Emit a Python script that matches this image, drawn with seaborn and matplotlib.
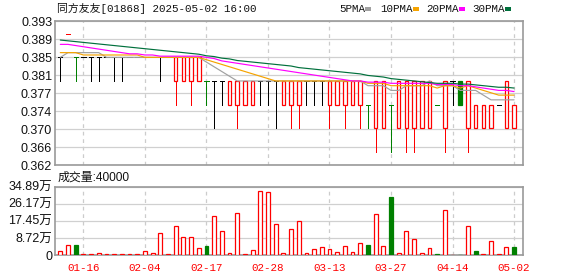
import numpy as np
import pandas as pd
import matplotlib
matplotlib.use("Agg")
import matplotlib.pyplot as plt
from matplotlib.patches import Rectangle
import seaborn as sns

# ---------------- data ----------------
title = "同方友友[01868] 2025-05-02 16:00"
vol_title = "成交量:40000"

# closes before the visible window (needed for the moving averages)
prev_closes = [0.395] + [0.390] * 9 + [0.390] * 9 + [0.385, 0.390, 0.385, 0.390,
                                                     0.385, 0.385, 0.385, 0.385, 0.385, 0.385]

opens = [0.385, 0.390, 0.385, 0.385, 0.385, 0.385, 0.385, 0.385, 0.385, 0.385,
         0.385, 0.385, 0.385, 0.385, 0.385, 0.380, 0.380, 0.380, 0.380, 0.380,
         0.380, 0.380, 0.375, 0.375, 0.375, 0.375, 0.380, 0.380, 0.380, 0.375,
         0.375, 0.375, 0.380, 0.380, 0.380, 0.375, 0.375, 0.375, 0.375, 0.375,
         0.375, 0.370, 0.370, 0.375, 0.370, 0.370, 0.370, 0.370, 0.370, 0.375,
         0.370, 0.380, 0.380, 0.370, 0.370, 0.370, 0.370, 0.375, 0.370, 0.370]
highs = [0.385, 0.390, 0.385, 0.385, 0.385, 0.385, 0.385, 0.385, 0.385, 0.385,
         0.385, 0.385, 0.385, 0.385, 0.385, 0.385, 0.385, 0.385, 0.385, 0.380,
         0.380, 0.380, 0.380, 0.380, 0.380, 0.380, 0.380, 0.380, 0.380, 0.380,
         0.380, 0.380, 0.380, 0.380, 0.380, 0.380, 0.380, 0.380, 0.380, 0.380,
         0.375, 0.380, 0.380, 0.375, 0.380, 0.380, 0.380, 0.380, 0.380, 0.375,
         0.380, 0.380, 0.380, 0.380, 0.375, 0.375, 0.375, 0.375, 0.380, 0.375]
lows = [0.380, 0.390, 0.380, 0.385, 0.380, 0.380, 0.385, 0.380, 0.380, 0.385,
        0.385, 0.385, 0.385, 0.380, 0.385, 0.375, 0.380, 0.375, 0.380, 0.375,
        0.370, 0.375, 0.375, 0.370, 0.375, 0.375, 0.375, 0.375, 0.370, 0.375,
        0.370, 0.370, 0.375, 0.375, 0.375, 0.370, 0.375, 0.370, 0.375, 0.370,
        0.370, 0.365, 0.370, 0.365, 0.370, 0.365, 0.365, 0.370, 0.370, 0.375,
        0.365, 0.375, 0.375, 0.365, 0.370, 0.370, 0.370, 0.375, 0.370, 0.370]
closes = [0.385, 0.390, 0.385, 0.385, 0.385, 0.385, 0.385, 0.385, 0.385, 0.385,
          0.385, 0.385, 0.385, 0.385, 0.385, 0.385, 0.385, 0.385, 0.385, 0.380,
          0.380, 0.380, 0.380, 0.380, 0.380, 0.380, 0.380, 0.380, 0.380, 0.380,
          0.380, 0.380, 0.380, 0.380, 0.380, 0.380, 0.380, 0.380, 0.380, 0.380,
          0.375, 0.380, 0.380, 0.375, 0.380, 0.380, 0.380, 0.380, 0.380, 0.375,
          0.380, 0.380, 0.375, 0.380, 0.375, 0.375, 0.375, 0.375, 0.380, 0.375]
volumes = [20000, 51000, 51000, 4000, 4000, 8000, 4000, 4000, 4000, 4000,
           4000, 20000, 10000, 112000, 4000, 148000, 92000, 92000, 36000, 46000,
           199000, 123000, 10000, 215000, 4000, 26000, 327000, 322000, 158000, 10000,
           131000, 172000, 10000, 29000, 39000, 29000, 14000, 44000, 14000, 60000,
           51000, 208000, 44000, 296000, 10000, 121000, 80000, 10000, 34000, 5000,
           228000, 0, 0, 147000, 20000, 4000, 70000, 4000, 39000, 40000]

date_labels = ["01-16", "02-04", "02-17", "02-28", "03-13", "03-27", "04-14", "05-02"]
date_label_index = [3, 11, 19, 27, 35, 43, 51, 59]
price_tick_labels = ["0.362", "0.366", "0.370", "0.374", "0.377",
                     "0.381", "0.385", "0.389", "0.393"]
price_range = [0.3622, 0.3927]
vol_tick_values = [0, 87225, 174450, 261675, 348900]
vol_tick_labels = ["0", "8.72万", "17.45万", "26.17万", "34.89万"]

ma_periods = [5, 10, 20, 30]
ma_names = ["5PMA", "10PMA", "20PMA", "30PMA"]
ma_colors = ["#a0a0a0", "#f5a300", "#ff00ff", "#00703c"]

RED = "#ff0000"
GREEN = "#008000"
BLACK = "#000000"

# ---------------- style ----------------
sns.set_theme(style="white")
plt.rcParams["font.family"] = ["Liberation Sans", "Noto Sans CJK SC"]
plt.rcParams["axes.unicode_minus"] = False

W, H = 578, 276
fig = plt.figure(figsize=(W / 100, H / 100), dpi=100)
fig.patch.set_facecolor("white")

left, right = 55, 522.7
ax = fig.add_axes([left / W, (H - 165) / H, (right - left) / W, 144 / H])
axv = fig.add_axes([left / W, (H - 255) / H, (right - left) / W, 68.3 / H])

n = len(closes)
idx = np.arange(n)
o, h, l, c = (np.array(a) for a in (opens, highs, lows, closes))
prev = np.array(prev_closes[-1:] + closes[:-1])

# moving averages
all_close = pd.Series(prev_closes + closes)
ma_df = pd.DataFrame({"idx": idx})
for p, name in zip(ma_periods, ma_names):
    ma_df[name] = all_close.rolling(p).mean().to_numpy()[-n:]

LW = 0.72
body_w = 0.46
dash_w = 0.56

for i in range(n):
    if c[i] > o[i]:
        col, fill = RED, "white"
    elif c[i] < o[i]:
        col, fill = GREEN, GREEN
    else:
        col = RED if c[i] > prev[i] else (GREEN if c[i] < prev[i] else BLACK)
        fill = None
    if h[i] > l[i]:
        ax.vlines(i, l[i], h[i], color=col, lw=LW, zorder=2, antialiased=False)
    if fill is None:
        ax.hlines(c[i], i - dash_w / 2, i + dash_w / 2, color=col, lw=LW,
                  zorder=3, antialiased=False)
    else:
        ax.bar(i, abs(c[i] - o[i]), bottom=min(c[i], o[i]), width=body_w,
               facecolor=fill, edgecolor=col, linewidth=0.9, zorder=3)

for name, colr in zip(ma_names, ma_colors):
    sns.lineplot(data=ma_df, x="idx", y=name, ax=ax, color=colr, linewidth=0.85,
                 zorder=4, legend=False)

xlim = (-0.69, n + 0.12)
ax.set_xlim(*xlim)
ax.set_ylim(*price_range)
ax.set_yticks(np.linspace(price_range[0], price_range[1], len(price_tick_labels)))
ax.set_yticklabels(price_tick_labels)
ax.set_xticks(date_label_index)
ax.set_xticklabels([])
ax.set_xlabel("")
ax.set_ylabel("")

# volume
vol_up = c >= prev
vol_face = ["white" if u else GREEN for u in vol_up]
vol_edge = [RED if u else GREEN for u in vol_up]
axv.bar(idx, volumes, width=0.5, color=vol_face, edgecolor=vol_edge,
        linewidth=0.9, zorder=3)
axv.set_xlim(*xlim)
axv.set_ylim(0, vol_tick_values[-1])
axv.set_yticks(vol_tick_values)
axv.set_yticklabels(vol_tick_labels)
axv.set_xticks(date_label_index)
axv.set_xticklabels(date_labels)

for a in (ax, axv):
    a.set_facecolor("white")
    a.grid(axis="y", color="#d0d0d0", linewidth=0.9, zorder=0)
    a.grid(axis="x", color="#cccccc", linewidth=0.9, linestyle=(0, (3, 3)), zorder=0)
    a.set_axisbelow(True)
    for s in a.spines.values():
        s.set_color("#9a9a9a")
        s.set_linewidth(1.2)
        s.set_visible(True)
    a.tick_params(axis="both", length=0)
    a.tick_params(axis="y", pad=2.0, labelsize=9, labelcolor="#111111")

axv.tick_params(axis="x", pad=5.5, labelsize=7.8, labelcolor=RED)
for t in axv.get_xticklabels():
    t.set_fontfamily(["Liberation Mono"])

# titles
fig.text(57 / W, 1 - 8.5 / H, title, fontsize=7.8, va="center", ha="left",
         family=["Liberation Mono", "Noto Sans CJK SC"], color="#111111")
fig.text(58 / W, 1 - 177.5 / H, vol_title, fontsize=8.6, va="center", ha="left",
         family=["Liberation Sans", "Noto Sans CJK SC"], color="#111111")

# legend (text followed by colour swatch)
leg_text_x = [339, 380, 426, 472]
leg_box_x = [365, 413, 459, 505]
for name, colr, tx, bx in zip(ma_names, ma_colors, leg_text_x, leg_box_x):
    fig.text(tx / W, 1 - 8.5 / H, name, fontsize=7.8, va="center", ha="left",
             family=["Liberation Mono"], color="#111111")
    fig.patches.append(Rectangle((bx / W, 1 - 10.5 / H), 5.5 / W, 3.5 / H,
                                 transform=fig.transFigure, facecolor=colr,
                                 edgecolor="none"))

fig.savefig("out.png", dpi=100, facecolor="white")
